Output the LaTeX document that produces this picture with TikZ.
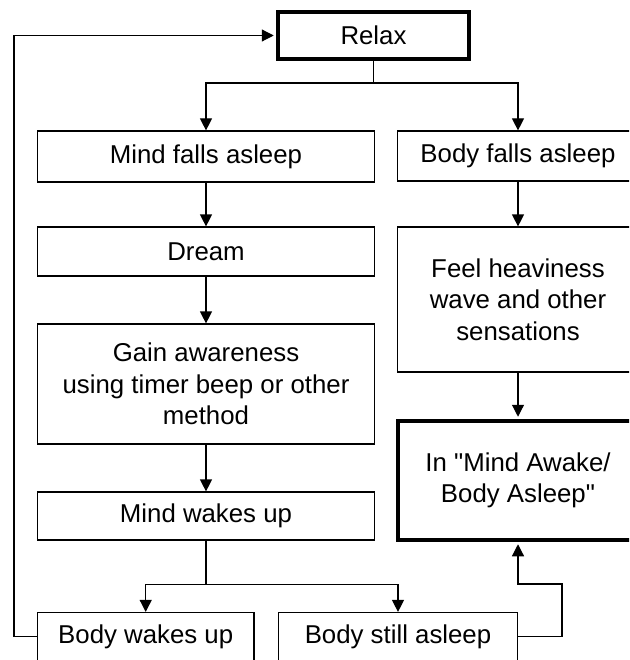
\documentclass[tikz,border=0pt]{standalone}
\usepackage{fontspec}
\newfontfamily\chartfont{Liberation Sans}
\usepackage{tikz}
\usetikzlibrary{arrows.meta}
\tikzset{
   >={Triangle[width=12pt,length=12pt]},
   stage/.style={draw=black, line width=1.2pt, align=center, inner sep=0pt,
      font=\chartfont\fontsize{25.8}{31.6}\selectfont},
   keystage/.style={stage, line width=4.5pt},
   link/.style={draw=black, line width=1.2pt},
    }

\begin{document}
\begin{tikzpicture}[x=1pt,y=-1pt]
            \useasboundingbox (0,0) rectangle (629,660);
            \clip (0,0) rectangle (629,660);
            \node[keystage, minimum width=190.6, minimum height=46.6] (relax) at (373.5,35.5) {Relax};
            \node[stage, minimum width=337, minimum height=51] (mindasleep) at (206,156.5) {Mind falls asleep};
            \node[stage, minimum width=241.4, minimum height=50] (bodyasleep) at (518,156) {Body falls asleep};
            \node[stage, minimum width=337, minimum height=49] (dream) at (206,251.5) {Dream};
            \node[stage, minimum width=337, minimum height=120] (gain) at (206,384) {Gain awareness\\using timer beep or other\\method};
            \node[stage, minimum width=241.4, minimum height=145] (feel) at (518,299.5) {Feel heaviness\\wave and other\\sensations};
            \node[keystage, minimum width=239.6, minimum height=118.6] (awake) at (518,480.5) {In "Mind Awake/\\Body Asleep"};
            \node[stage, minimum width=337, minimum height=48] (mindwakes) at (206,516) {Mind wakes up};
            \node[stage, minimum width=216.7, minimum height=48] (bodywakes) at (145.7,636.5) {Body wakes up};
            \node[stage, minimum width=239.4, minimum height=48] (bodystill) at (398,636.5) {Body still asleep};

            \coordinate (fork1) at (373.5,83);
            \coordinate (fork2) at (206,584.3);
            \coordinate (loopturn) at (14,35.5);
            \coordinate (backturn) at (562,584);

            \draw[link](relax)--(fork1);
            \draw[link,->](fork1)-|(mindasleep);
            \draw[link,->](fork1)-|(bodyasleep);
            \draw[link,->](mindasleep)--(dream);
            \draw[link,->](dream)--(gain);
            \draw[link,->](gain)--(mindwakes);
            \draw[link,->](bodyasleep)--(feel);
            \draw[link,->, shorten >=2.2pt](feel)--(awake);
            \draw[link](mindwakes)--(fork2);
            \draw[link,->](fork2)-|(bodywakes);
            \draw[link,->](fork2)-|(bodystill);
            \draw[link,->, shorten >=2.2pt](bodywakes.west)-|(loopturn)--(relax.west);
            \draw[link,->, shorten >=2.2pt](bodystill.east)-|(backturn)-|(awake);

        \end{tikzpicture}
\end{document}
